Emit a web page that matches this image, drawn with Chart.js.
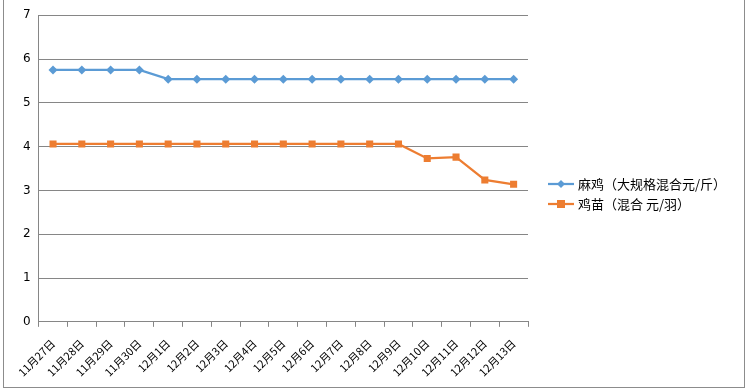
<!DOCTYPE html>
<html>
<head>
<meta charset="utf-8">
<script src="https://cdn.jsdelivr.net/npm/chart.js@4/dist/chart.umd.min.js"></script>
<style>
  html, body { margin: 0; padding: 0; background: #fff; }
  #wrap { position: relative; width: 749px; height: 391px; }
</style>
</head>
<body>
<div id="wrap"><canvas id="c" width="749" height="391"></canvas></div>
<script>
const categories = ['11月27日', '11月28日', '11月29日', '11月30日', '12月1日', '12月2日', '12月3日', '12月4日',
  '12月5日', '12月6日', '12月7日', '12月8日', '12月9日', '12月10日', '12月11日', '12月12日', '12月13日'];
const maji = [5.75, 5.75, 5.75, 5.75, 5.54, 5.54, 5.54, 5.54, 5.54, 5.54, 5.54, 5.54, 5.54, 5.54, 5.54, 5.54, 5.54];
const jimiao = [4.06, 4.06, 4.06, 4.06, 4.06, 4.06, 4.06, 4.06, 4.06, 4.06, 4.06, 4.06, 4.06, 3.73, 3.76, 3.24, 3.14];
const yTicks = [0, 1, 2, 3, 4, 5, 6, 7];

const BLUE = '#5B9BD5';
const ORANGE = '#ED7D31';
const FONT = "'Noto Sans CJK SC', 'DejaVu Sans', sans-serif";

// legend on the right plus the outer frame, drawn by hand like Excel's
const sideLegend = {
  id: 'sideLegend',
  afterDraw(chart) {
    const ctx = chart.ctx;
    ctx.save();
    ctx.strokeStyle = '#8c8c8c';
    ctx.lineWidth = 1;
    ctx.strokeRect(3.5, -2, 741, 389.5);

    const x0 = 548, rows = [184, 204];
    chart.data.datasets.forEach((ds, i) => {
      const y = rows[i];
      ctx.strokeStyle = ds.borderColor;
      ctx.lineWidth = 2.25;
      ctx.beginPath();
      ctx.moveTo(x0, y);
      ctx.lineTo(x0 + 26, y);
      ctx.stroke();
      ctx.fillStyle = ds.borderColor;
      const cx = x0 + 13;
      if (ds.pointStyle === 'rectRot') {
        ctx.beginPath();
        ctx.moveTo(cx, y - 4); ctx.lineTo(cx + 4, y); ctx.lineTo(cx, y + 4); ctx.lineTo(cx - 4, y);
        ctx.closePath(); ctx.fill();
      } else {
        ctx.fillRect(cx - 4, y - 4, 8, 8);
      }
      ctx.fillStyle = '#000';
      ctx.font = '13px ' + FONT;
      ctx.textBaseline = 'middle';
      ctx.fillText(ds.label, x0 + 30, y);
    });
    ctx.restore();
  }
};

new Chart(document.getElementById('c'), {
  type: 'line',
  data: {
    labels: categories,
    datasets: [
      {
        label: '麻鸡（大规格混合元/斤）',
        data: maji,
        borderColor: BLUE,
        backgroundColor: BLUE,
        borderWidth: 2.25,
        pointStyle: 'rectRot',
        pointRadius: 4.5,
        pointBorderWidth: 0,
        tension: 0
      },
      {
        label: '鸡苗（混合 元/羽）',
        data: jimiao,
        borderColor: ORANGE,
        backgroundColor: ORANGE,
        borderWidth: 2.25,
        pointStyle: 'rect',
        pointRadius: 5,
        pointBorderWidth: 0,
        tension: 0
      }
    ]
  },
  options: {
    responsive: false,
    animation: false,
    layout: { padding: { top: 10, right: 221, left: 15, bottom: 2 } },
    plugins: {
      legend: { display: false },
      tooltip: { enabled: false }
    },
    scales: {
      x: {
        offset: true,
        grid: {
          offset: true,
          drawOnChartArea: false,
          drawTicks: true,
          tickLength: 5,
          color: '#868686'
        },
        border: { color: '#868686', width: 1 },
        ticks: {
          color: '#000',
          font: { family: FONT, size: 11 },
          minRotation: 45,
          maxRotation: 45,
          padding: 10,
          autoSkip: false
        }
      },
      y: {
        min: 0,
        max: 7,
        afterBuildTicks: axis => { axis.ticks = yTicks.map(v => ({ value: v })); },
        grid: { color: '#868686', drawTicks: false, lineWidth: 1 },
        border: { color: '#868686', width: 1 },
        ticks: {
          color: '#000',
          font: { family: "'DejaVu Sans', sans-serif", size: 12 },
          padding: 8
        }
      }
    }
  },
  plugins: [sideLegend]
});
</script>
</body>
</html>
